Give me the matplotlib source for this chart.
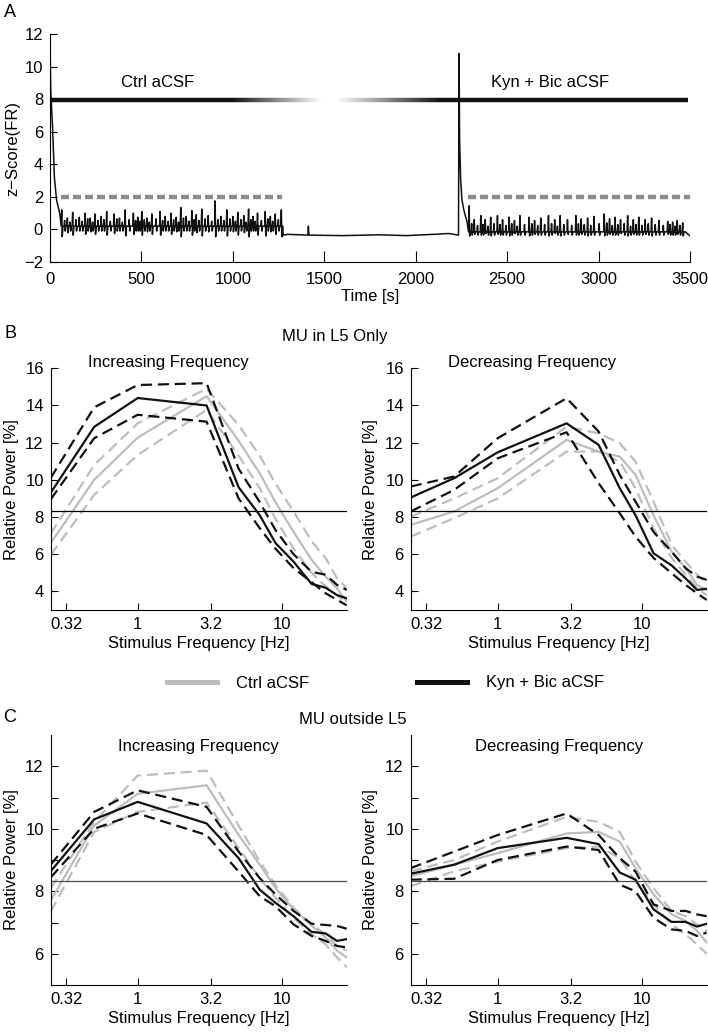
import numpy as np
import matplotlib
matplotlib.use('Agg')
import matplotlib.pyplot as plt
from matplotlib.collections import LineCollection
from matplotlib.lines import Line2D

plt.rcParams['font.family'] = ['Liberation Sans', 'DejaVu Sans']
plt.rcParams['font.size'] = 12

# ---- panel A: z-scored firing rate over time ----
start_t = [0, 4, 14, 24, 36, 54]
start_v = [11.5, 8.5, 6.3, 3.2, 1.8, 0.95]

seg1_peak_t = [64, 95, 124, 160, 192, 220, 246, 280, 310, 350,
               380, 411, 456, 480, 502, 530, 557, 602, 630, 662,
               690, 715, 745, 776, 800, 830, 865, 903, 935, 967,
               1000, 1027, 1060, 1086, 1110, 1135, 1177, 1205, 1232, 1265]
seg1_peak_v = [1.2, 0.7, 1.05, 0.75, 1.0, 0.7, 0.95, 0.8, 1.1, 0.95,
               0.7, 1.2, 1.0, 0.75, 1.1, 0.7, 0.95, 1.1, 0.8, 1.0,
               0.75, 1.35, 0.8, 1.15, 0.9, 1.25, 0.85, 1.75, 0.8, 1.2,
               0.8, 1.05, 0.85, 1.25, 0.8, 1.0, 1.1, 0.8, 0.95, 1.2]
seg1_dip_v = [-0.45, -0.2, -0.35, -0.1, -0.3, -0.15, -0.3, -0.1, -0.35, -0.25,
              -0.1, -0.4, -0.3, -0.1, -0.35, -0.15, -0.3, -0.35, -0.1, -0.3,
              -0.15, -0.45, -0.1, -0.35, -0.2, -0.4, -0.15, -0.45, -0.1, -0.4,
              -0.15, -0.35, -0.2, -0.45, -0.1, -0.35, -0.4, -0.15, -0.3, -0.45]
seg1_minor_t = [80, 110, 142, 176, 206, 233, 263, 295, 330, 365,
                396, 433, 468, 491, 516, 543, 580, 616, 646, 676,
                703, 730, 760, 788, 815, 848, 884, 919, 951, 984,
                1014, 1044, 1073, 1098, 1122, 1156, 1191, 1218, 1249]
seg1_minor_v = [0.55, 0.45, 0.6, 0.5, 0.65, 0.45, 0.55, 0.6, 0.5, 0.65,
                0.45, 0.6, 0.55, 0.5, 0.6, 0.45, 0.65, 0.55, 0.5, 0.6,
                0.45, 0.7, 0.5, 0.6, 0.55, 0.65, 0.5, 0.6, 0.55, 0.65,
                0.5, 0.6, 0.45, 0.6, 0.5, 0.55, 0.65, 0.5, 0.6]
seg1_base = 0.2
seg1_minor_dip = -0.1

seg2_t = [1275, 1300, 1410, 1413, 1416, 1600, 1800, 1950, 2100, 2180, 2234]
seg2_v = [-0.35, -0.3, -0.35, 0.2, -0.35, -0.38, -0.33, -0.38, -0.3, -0.25, -0.35]

jump_t = [2237, 2240, 2246, 2253, 2265, 2280]
jump_v = [10.8, 5.5, 3.0, 1.8, 1.1, 0.5]

seg3_peak_t = [2292, 2320, 2356, 2380, 2410, 2447, 2475, 2511, 2540, 2570,
               2620, 2650, 2684, 2726, 2760, 2790, 2830, 2876, 2905, 2940,
               2975, 3031, 3060, 3090, 3120, 3159, 3190, 3220, 3255, 3290,
               3330, 3378, 3405, 3430, 3460]
seg3_peak_v = [1.45, 0.6, 0.85, 0.6, 0.75, 0.85, 0.6, 0.75, 0.55, 0.85,
               0.75, 0.55, 0.7, 0.85, 0.6, 0.85, 0.6, 0.85, 0.65, 0.7,
               0.8, 0.95, 0.65, 0.75, 0.6, 0.85, 0.6, 0.75, 0.6, 0.7,
               0.55, 0.5, 0.45, 0.55, 0.4]
seg3_dip_v = [-0.4, -0.3, -0.35, -0.25, -0.4, -0.3, -0.35, -0.4, -0.25, -0.35,
              -0.4, -0.3, -0.35, -0.4, -0.25, -0.4, -0.3, -0.35, -0.3, -0.4,
              -0.35, -0.4, -0.3, -0.35, -0.25, -0.4, -0.3, -0.35, -0.3, -0.4,
              -0.35, -0.3, -0.35, -0.3, -0.4]
seg3_minor_t = [2306, 2338, 2368, 2395, 2428, 2461, 2493, 2525, 2555, 2595,
                2635, 2667, 2705, 2743, 2775, 2810, 2853, 2890, 2922, 2957,
                3003, 3045, 3075, 3105, 3140, 3175, 3205, 3238, 3272, 3310,
                3354, 3391, 3418, 3445]
seg3_minor_v = [0.35, 0.25, 0.3, 0.2, 0.35, 0.3, 0.25, 0.35, 0.2, 0.3,
                0.35, 0.25, 0.3, 0.35, 0.2, 0.3, 0.25, 0.35, 0.3, 0.25,
                0.35, 0.4, 0.25, 0.3, 0.35, 0.2, 0.3, 0.25, 0.35, 0.3,
                0.25, 0.3, 0.2, 0.25]
seg3_base = -0.15
seg3_minor_dip = -0.35
end_t = [3475, 3490, 3500]
end_v = [-0.15, -0.3, -0.4]

bar_t = [0, 1000, 1480, 1560, 2120, 3490]
bar_gray = [0.08, 0.08, 1.0, 1.0, 0.08, 0.08]
thr_ctrl = (60, 1270)
thr_kyn = (2285, 3500)

# ---- panels B/C: relative power per stimulus frequency ----
freqs = [0.25, 0.5, 1, 3, 5, 7, 9, 12, 16, 20, 24, 28]

b_inc_kyn = [9.3, 12.85, 14.4, 14.0, 9.6, 8.1, 6.6, 5.6, 4.4, 4.2, 3.8, 3.63]
b_inc_kyn_hi = [10.1, 13.9, 15.1, 15.2, 10.6, 8.8, 7.3, 6.0, 5.05, 4.9, 4.35, 4.08]
b_inc_kyn_lo = [8.95, 12.24, 13.5, 13.13, 9.0, 7.4, 6.3, 5.25, 4.5, 3.9, 3.55, 3.25]
b_inc_ctrl = [6.6, 10.0, 12.27, 14.5, 12.1, 10.35, 8.8, 7.2, 5.7, 4.8, 4.17, 3.45]
b_inc_ctrl_hi = [7.1, 10.8, 13.04, 14.9, 12.95, 11.3, 9.8, 8.3, 6.7, 5.8, 4.7, 4.17]
b_inc_ctrl_lo = [5.96, 9.19, 11.34, 13.76, 11.3, 9.55, 7.9, 6.3, 5.0, 4.26, 3.8, 3.37]

b_dec_kyn = [9.05, 10.09, 11.48, 13.04, 11.88, 9.55, 8.1, 6.05, 5.4, 4.7, 4.08, 4.14]
b_dec_kyn_hi = [9.64, 10.18, 12.24, 14.39, 12.6, 10.27, 8.83, 7.2, 6.14, 5.25, 4.8, 4.62]
b_dec_kyn_lo = [8.3, 9.46, 11.16, 12.56, 9.82, 8.2, 6.95, 5.8, 4.98, 4.35, 3.9, 3.54]
b_dec_ctrl = [7.58, 8.3, 9.55, 12.15, 11.52, 11.25, 10.27, 8.1, 6.14, 5.25, 4.35, 4.08]
b_dec_ctrl_hi = [8.02, 9.0, 10.09, 12.86, 12.5, 11.97, 10.98, 8.83, 6.5, 5.6, 4.9, 4.44]
b_dec_ctrl_lo = [6.95, 7.94, 9.0, 11.52, 11.52, 10.98, 9.55, 7.4, 5.8, 4.9, 4.17, 3.8]

c_inc_kyn = [8.64, 10.3, 10.86, 10.17, 9.06, 8.05, 7.63, 7.2, 6.7, 6.65, 6.41, 6.47]
c_inc_kyn_hi = [8.85, 10.54, 11.23, 10.7, 9.27, 8.42, 7.9, 7.37, 6.96, 6.92, 6.89, 6.8]
c_inc_kyn_lo = [8.44, 10.0, 10.49, 9.8, 8.63, 7.84, 7.52, 6.94, 6.57, 6.41, 6.25, 6.2]
c_inc_ctrl = [7.7, 10.1, 11.12, 11.39, 9.8, 8.85, 8.1, 7.42, 6.9, 6.52, 6.1, 5.88]
c_inc_ctrl_hi = [8.1, 10.22, 11.7, 11.86, 10.1, 8.95, 8.2, 7.47, 6.94, 6.62, 6.25, 6.1]
c_inc_ctrl_lo = [7.35, 9.9, 10.54, 10.84, 9.38, 8.42, 7.79, 7.15, 6.62, 6.3, 5.88, 5.57]

c_dec_kyn = [8.56, 8.85, 9.38, 9.71, 9.51, 8.6, 8.37, 7.42, 7.02, 7.02, 6.87, 6.96]
c_dec_kyn_hi = [8.74, 9.27, 9.8, 10.49, 9.8, 9.06, 8.63, 7.58, 7.37, 7.37, 7.26, 7.2]
c_dec_kyn_lo = [8.37, 8.4, 9.0, 9.43, 9.32, 8.21, 8.0, 7.15, 6.78, 6.73, 6.57, 6.68]
c_dec_ctrl = [8.48, 8.85, 9.22, 9.85, 9.9, 9.59, 8.74, 7.9, 7.26, 7.05, 6.73, 6.36]
c_dec_ctrl_hi = [8.64, 9.0, 9.59, 10.38, 10.22, 9.9, 8.95, 8.1, 7.37, 7.2, 6.94, 6.73]
c_dec_ctrl_lo = [8.16, 8.64, 8.95, 9.38, 9.43, 9.06, 8.32, 7.58, 6.94, 6.62, 6.3, 5.99]

uniform_level = 100.0 / 12
freq_ticks = [0.32, 1, 3.2, 10]
freq_labels = ['0.32', '1', '3.2', '10']

GRAY = '#bdbdbd'
BLACK = '#111111'


def spike_vertices(peak_t, peak_v, dip_v, base):
    pts = []
    for pt, pv, dv in zip(peak_t, peak_v, dip_v):
        pts += [(pt - 3, base), (pt, pv), (pt + 3, dv), (pt + 7, base)]
    return pts


def segment(peaks, peak_v, dips, minor_t, minor_v, minor_dip, base):
    pts = spike_vertices(peaks, peak_v, dips, base)
    pts += spike_vertices(minor_t, minor_v, [minor_dip] * len(minor_t), base)
    pts.sort()
    return [p[0] for p in pts], [p[1] for p in pts]


def style_axes(ax):
    for s in ['top', 'right']:
        ax.spines[s].set_visible(False)
    for s in ['left', 'bottom']:
        ax.spines[s].set_linewidth(0.8)
    ax.tick_params(direction='in', length=5, width=0.8, pad=5)
    ax.tick_params(which='minor', direction='in', length=5, width=0.8)


def power_panel(ax, ctrl, kyn, ylim, yticks, hcolor):
    ax.set_xscale('log')
    for (m, hi, lo), col in [(ctrl, GRAY), (kyn, BLACK)]:
        ax.plot(freqs, hi, color=col, lw=1.6, dashes=(5, 2.6))
        ax.plot(freqs, lo, color=col, lw=1.6, dashes=(5, 2.6))
        ax.plot(freqs, m, color=col, lw=1.6)
    ax.axhline(uniform_level, color=hcolor, lw=0.9)
    ax.set_xlim(freqs[0], freqs[-1])
    ax.set_ylim(*ylim)
    ax.set_yticks(yticks)
    ax.set_xticks(freq_ticks)
    ax.set_xticklabels(freq_labels)
    ax.xaxis.set_minor_locator(matplotlib.ticker.NullLocator())
    ax.set_xlabel('Stimulus Frequency [Hz]', labelpad=3)
    ax.set_ylabel('Relative Power [%]', va='center')
    style_axes(ax)


fig = plt.figure(figsize=(7.08, 10.34), dpi=100)
W, H = 708.0, 1034.0


def add_ax(l, r, t, b):
    return fig.add_axes([l / W, 1 - b / H, (r - l) / W, (b - t) / H])


# panel A
axA = add_ax(50, 690, 34, 262)
t1, v1 = segment(seg1_peak_t, seg1_peak_v, seg1_dip_v,
                 seg1_minor_t, seg1_minor_v, seg1_minor_dip, seg1_base)
t3, v3 = segment(seg3_peak_t, seg3_peak_v, seg3_dip_v,
                 seg3_minor_t, seg3_minor_v, seg3_minor_dip, seg3_base)
trace_t = start_t + t1 + seg2_t + jump_t + t3 + end_t
trace_v = start_v + v1 + seg2_v + jump_v + v3 + end_v
axA.plot(trace_t, trace_v, color=BLACK, lw=1.1)

bx = np.linspace(bar_t[0], bar_t[-1], 400)
bg = np.interp(bx, bar_t, bar_gray)
segs = [[(bx[i], 7.95), (bx[i + 1], 7.95)] for i in range(len(bx) - 1)]
cols = [(g, g, g) for g in bg[:-1]]
axA.add_collection(LineCollection(segs, colors=cols, linewidths=3.2, capstyle='butt'))

for a, b in [thr_ctrl, thr_kyn]:
    axA.plot([a, b], [2, 2], color='#8c8c8c', lw=3.2, dashes=(1.8, 0.9))

axA.text(590, 9.05, 'Ctrl aCSF', ha='center', va='center')
axA.text(2734, 9.05, 'Kyn + Bic aCSF', ha='center', va='center')
axA.set_xlim(0, 3500)
axA.set_ylim(-2, 12)
axA.set_xticks(np.arange(0, 3501, 500))
axA.set_yticks(np.arange(-2, 13, 2))
axA.set_xlabel('Time [s]', labelpad=2)
axA.set_ylabel('z\u2212Score(FR)', va='center')
style_axes(axA)
axA.tick_params(axis='x', length=8, pad=7)
axA.yaxis.set_label_coords(-0.058, 0.5)

# panel B
axB1 = add_ax(50.7, 346.7, 368.3, 610)
power_panel(axB1, (b_inc_ctrl, b_inc_ctrl_hi, b_inc_ctrl_lo),
            (b_inc_kyn, b_inc_kyn_hi, b_inc_kyn_lo), (3, 16), np.arange(4, 17, 2), 'k')
axB1.text(0.396, 1.026, 'Increasing Frequency', transform=axB1.transAxes, ha='center', va='center')
axB1.yaxis.set_label_coords(-0.134, 0.5)

axB2 = add_ax(410.7, 706.7, 368.3, 610)
power_panel(axB2, (b_dec_ctrl, b_dec_ctrl_hi, b_dec_ctrl_lo),
            (b_dec_kyn, b_dec_kyn_hi, b_dec_kyn_lo), (3, 16), np.arange(4, 17, 2), 'k')
axB2.text(0.41, 1.022, 'Decreasing Frequency', transform=axB2.transAxes, ha='center', va='center')
axB2.yaxis.set_label_coords(-0.1375, 0.5)

# panel C
axC1 = add_ax(50.7, 346.7, 735, 985)
power_panel(axC1, (c_inc_ctrl, c_inc_ctrl_hi, c_inc_ctrl_lo),
            (c_inc_kyn, c_inc_kyn_hi, c_inc_kyn_lo), (5, 13), [6, 8, 10, 12], '#4d4d4d')
axC1.set_yticks([7, 9, 11], minor=True)
axC1.text(0.5, 12.62, 'Increasing Frequency', transform=axC1.get_yaxis_transform(), ha='center', va='center')
axC1.yaxis.set_label_coords(-0.134, 0.5)

axC2 = add_ax(410.7, 706.7, 735, 985)
power_panel(axC2, (c_dec_ctrl, c_dec_ctrl_hi, c_dec_ctrl_lo),
            (c_dec_kyn, c_dec_kyn_hi, c_dec_kyn_lo), (5, 13), [6, 8, 10, 12], '#4d4d4d')
axC2.set_yticks([7, 9, 11], minor=True)
axC2.text(0.5, 12.62, 'Decreasing Frequency', transform=axC2.get_yaxis_transform(), ha='center', va='center')
axC2.yaxis.set_label_coords(-0.1375, 0.5)

# legend and headings
handles = [Line2D([], [], color=GRAY, lw=3.6), Line2D([], [], color=BLACK, lw=3.6)]
fig.legend(handles, ['Ctrl aCSF', 'Kyn + Bic aCSF'], loc='center',
           bbox_to_anchor=(385.5 / W, 1 - 683 / H), ncol=2, frameon=False,
           handlelength=3.0, handletextpad=1.1, columnspacing=6.5)

fig.text(335 / W, 1 - 337 / H, 'MU in L5 Only', ha='center', va='center')
fig.text(353 / W, 1 - 720 / H, 'MU outside L5', ha='center', va='center')
for lab, yy in [('A', 12.5), ('B', 334), ('C', 717)]:
    fig.text(10 / W, 1 - yy / H, lab, ha='center', va='center', fontsize=13)

fig.savefig('out.png', dpi=100)
